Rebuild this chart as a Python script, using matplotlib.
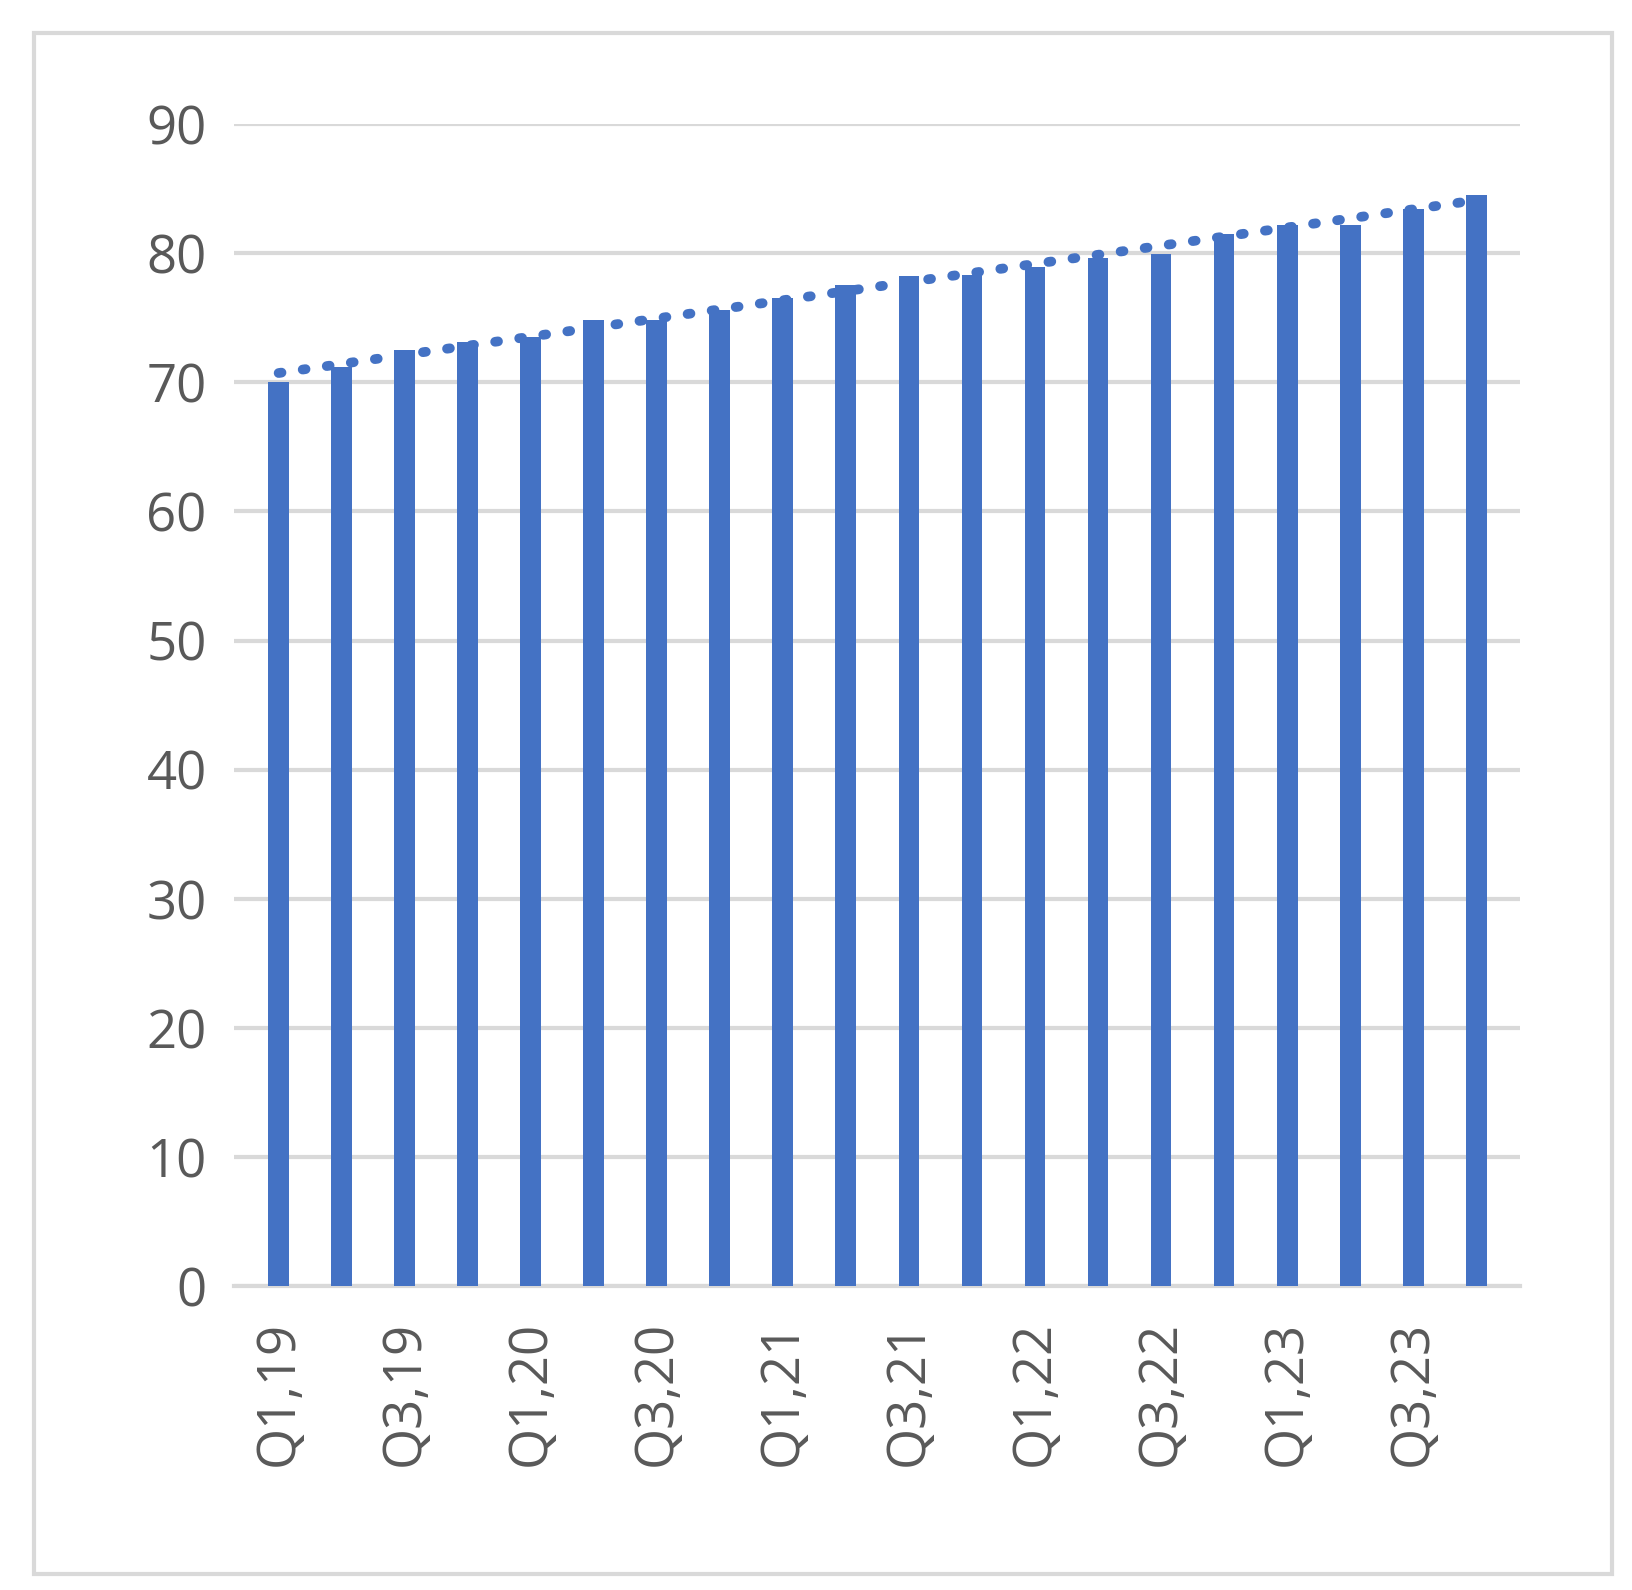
import matplotlib
matplotlib.use("Agg")
import matplotlib.pyplot as plt
import numpy as np
from matplotlib.patches import Rectangle

quarters = [f"Q{q},{y}" for y in range(19, 24) for q in range(1, 5)]
values = [70.0, 71.2, 72.5, 73.1, 73.5, 74.8, 74.8, 75.6, 76.5, 77.5,
          78.2, 78.3, 78.9, 79.6, 79.9, 81.5, 82.2, 82.2, 83.4, 84.5]
yticks = [0, 10, 20, 30, 40, 50, 60, 70, 80, 90]

plt.rcParams['font.family'] = ['Open Sans', 'DejaVu Sans']
fig = plt.figure(figsize=(16.33, 15.9), dpi=100)
fig.patches.append(Rectangle((0.021, 0.01), 0.966, 0.969, transform=fig.transFigure,
                             fill=False, edgecolor='#d9d9d9', linewidth=3))
ax = fig.add_axes([0.1436, 0.191, 0.7874, 0.731])
x = np.arange(len(values))
color = '#4472c4'
ax.bar(x, values, width=0.33, color=color, zorder=3)
coef = np.polyfit(x, values, 1)
ax.plot(x, np.polyval(coef, x), linestyle=(0, (0.3, 2.2)), dash_capstyle='round',
        color=color, linewidth=7, zorder=4)
ax.set_xlim(-0.7, len(values) - 0.3)
ax.set_ylim(0, 90)
ax.set_yticks(yticks)
ax.set_xticks(x[::2])
ax.set_xticklabels(quarters[::2], rotation=90)
ax.grid(axis='y', color='#d9d9d9', linewidth=3, zorder=0)
for s in ['top', 'right', 'left']:
    ax.spines[s].set_visible(False)
ax.spines['bottom'].set_color('#d9d9d9')
ax.spines['bottom'].set_linewidth(3)
ax.tick_params(length=0, labelsize=38, labelcolor='#595959', pad=20)
ax.tick_params(axis='x', pad=25)
fig.savefig('out.png')
